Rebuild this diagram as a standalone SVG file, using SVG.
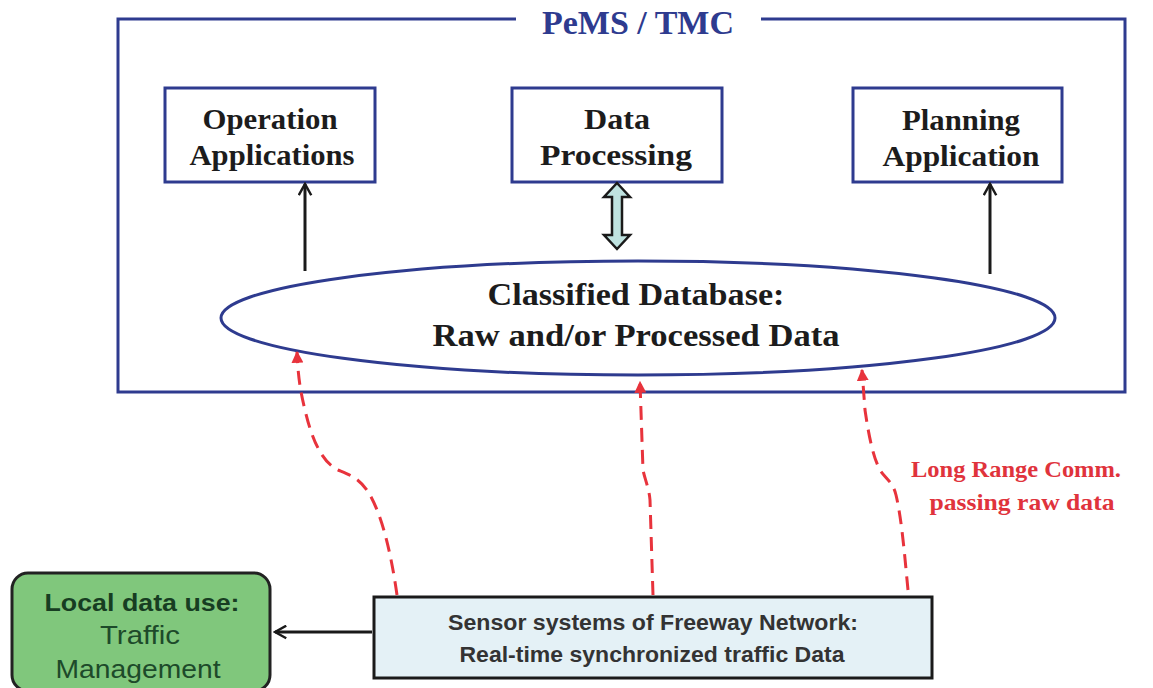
<svg xmlns="http://www.w3.org/2000/svg" width="1153" height="688" viewBox="0 0 1153 688">
<style>
.frame{fill:none;stroke:#2e3b8f;stroke-width:3}
.box{fill:#fff;stroke:#2e3b8f;stroke-width:3}
.serif{font-family:"Liberation Serif","Times New Roman",serif;font-weight:bold;text-anchor:middle}
.dark{fill:#1c1c1c}
.red{fill:#e0333c}
.dash{fill:none;stroke:#e8333c;stroke-width:3;stroke-dasharray:14 8}
.blk{fill:none;stroke:#1a1a1a;stroke-width:3}
.sans{font-family:"Liberation Sans",Arial,sans-serif;text-anchor:middle}
</style>
<defs>
<marker id="redhead" viewBox="0 0 10 10" refX="9" refY="5" markerWidth="4" markerHeight="4" orient="auto" markerUnits="strokeWidth">
<path d="M0,0 L10,5 L0,10 Z" fill="#e8333c"/>
</marker>
<marker id="openhead" viewBox="0 0 12 12" refX="10" refY="6" markerWidth="5" markerHeight="5" orient="auto" markerUnits="strokeWidth">
<path d="M1,1 L10,6 L1,11" fill="none" stroke="#1a1a1a" stroke-width="2"/>
</marker>
</defs>
<rect width="1153" height="688" fill="#ffffff"/>

<g id="pems-frame">
<path class="frame" d="M516,19 L118,19 L118,392 L1125,392 L1125,19 L761,19"/>
<text class="serif" x="638" y="34" font-size="34" fill="#2e3b8f" textLength="192" lengthAdjust="spacingAndGlyphs">PeMS / TMC</text>
</g>

<g id="operation-applications">
<rect class="box" x="165" y="88" width="210" height="94"/>
<text class="serif dark" x="270" y="129" font-size="30" textLength="135" lengthAdjust="spacingAndGlyphs">Operation</text>
<text class="serif dark" x="272" y="165" font-size="30" textLength="165" lengthAdjust="spacingAndGlyphs">Applications</text>
</g>

<g id="data-processing">
<rect class="box" x="512" y="88" width="210" height="94"/>
<text class="serif dark" x="617" y="129" font-size="30" textLength="66" lengthAdjust="spacingAndGlyphs">Data</text>
<text class="serif dark" x="616" y="165" font-size="30" textLength="152" lengthAdjust="spacingAndGlyphs">Processing</text>
</g>

<g id="planning-application">
<rect class="box" x="853" y="88" width="209" height="94"/>
<text class="serif dark" x="961" y="130" font-size="30" textLength="118" lengthAdjust="spacingAndGlyphs">Planning</text>
<text class="serif dark" x="961" y="166" font-size="30" textLength="157" lengthAdjust="spacingAndGlyphs">Application</text>
</g>

<g id="classified-database">
<ellipse cx="638" cy="318" rx="417" ry="57" fill="#fff" stroke="#2e3b8f" stroke-width="3"/>
<text class="serif dark" x="636" y="305" font-size="32" textLength="297" lengthAdjust="spacingAndGlyphs">Classified Database:</text>
<text class="serif dark" x="636" y="346" font-size="32" textLength="407" lengthAdjust="spacingAndGlyphs">Raw and/or Processed  Data</text>
</g>

<g id="sensor-systems">
<rect x="374" y="597" width="558" height="81" fill="#e4f1f6" stroke="#1a1a1a" stroke-width="3"/>
<text class="sans" x="653" y="630" font-size="22" font-weight="bold" fill="#333" textLength="410" lengthAdjust="spacingAndGlyphs">Sensor systems of Freeway Network:</text>
<text class="sans" x="652" y="662" font-size="22" font-weight="bold" fill="#333" textLength="385" lengthAdjust="spacingAndGlyphs">Real-time synchronized traffic Data</text>
</g>

<g id="local-data-use">
<rect x="12" y="573" width="258" height="118" rx="16" ry="16" fill="#80c77c" stroke="#222" stroke-width="3"/>
<text class="sans" x="142" y="611" font-size="24" font-weight="bold" fill="#173d22" textLength="195" lengthAdjust="spacingAndGlyphs">Local data use:</text>
<text class="sans" x="140" y="644" font-size="25" fill="#1d4a2a" textLength="80" lengthAdjust="spacingAndGlyphs">Traffic</text>
<text class="sans" x="138" y="678" font-size="25" fill="#1d4a2a" textLength="165" lengthAdjust="spacingAndGlyphs">Management</text>
</g>

<g id="long-range-label">
<text class="serif red" x="1016" y="477" font-size="24" textLength="210" lengthAdjust="spacingAndGlyphs">Long Range Comm.</text>
<text class="serif red" x="1022" y="510" font-size="24" textLength="185" lengthAdjust="spacingAndGlyphs">passing raw data</text>
</g>

<g id="connectors">
<line class="blk" x1="305" y1="271" x2="305" y2="184" marker-end="url(#openhead)"/>
<line class="blk" x1="990" y1="274" x2="990" y2="184" marker-end="url(#openhead)"/>
<polygon points="617,183 630,197 622,197 622,235 630,235 617,249 604,235 612,235 612,197 604,197" fill="#bfe3e0" stroke="#1a1a1a" stroke-width="2.5" stroke-linejoin="miter"/>
<line class="blk" x1="372" y1="632" x2="275" y2="632" marker-end="url(#openhead)"/>
<path class="dash" d="M397,595 C392,560 384,520 370,495 C360,478 350,475 338,470 C322,462 312,440 305,410 C300,390 298,375 297,352" marker-end="url(#redhead)"/>
<path class="dash" d="M653,595 L650,500 C649,488 645,480 643,470 L640,382" marker-end="url(#redhead)"/>
<path class="dash" d="M908,590 C905,560 902,520 896,495 C893,482 885,478 880,470 C872,455 868,430 865,410 L862,370" marker-end="url(#redhead)"/>
</g>
</svg>
